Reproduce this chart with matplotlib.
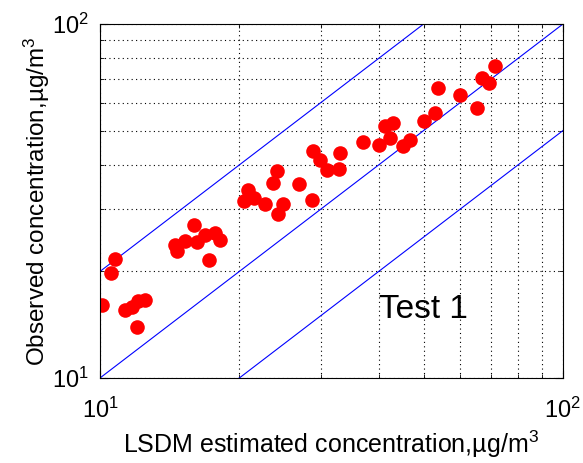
import numpy as np
import matplotlib
matplotlib.use('Agg')
import matplotlib.pyplot as plt
from matplotlib.ticker import NullFormatter, LogLocator

plt.rcParams['font.family'] = ['Liberation Sans', 'DejaVu Sans']
plt.rcParams['mathtext.fontset'] = 'custom'
plt.rcParams['mathtext.rm'] = 'Liberation Sans'
plt.rcParams['mathtext.it'] = 'Liberation Sans'

# оценка модели LSDM и наблюдения
lsdm = [10.1, 10.57, 10.8, 11.3, 11.7, 12.1, 12.5, 12.0,
        14.5, 14.7, 15.3, 16.0, 16.2, 16.9, 17.7, 18.2, 17.2,
        20.9, 20.5, 21.5, 22.7, 24.1, 23.6, 26.9, 24.9, 24.3, 28.7,
        28.9, 29.8, 30.9, 33.0, 32.9, 37.0,
        40.0, 41.3, 43.0, 42.3, 45.2, 46.8, 50.0, 52.9, 53.8, 60.0,
        65.3, 66.8, 69.3, 71.3]
observed = [16.1, 19.8, 21.7, 15.6, 15.9, 16.5, 16.6, 13.9,
            23.8, 22.8, 24.4, 27.0, 24.2, 25.4, 25.7, 24.5, 21.6,
            33.9, 31.6, 32.3, 31.1, 38.4, 35.6, 35.4, 31.1, 29.0, 31.9,
            43.7, 41.4, 38.8, 43.2, 38.9, 46.3,
            45.6, 51.4, 52.7, 47.6, 45.1, 47.1, 53.4, 56.0, 65.9, 63.1,
            57.9, 70.3, 68.3, 75.9]

# линии 1:1, 2:1, 1:2
ratios = [2.0, 1.0, 0.5]
lims = [10, 100]

fig = plt.figure(figsize=(5.83, 4.63), dpi=100)
ax = fig.add_axes([0.1715, 0.1836, 0.794, 0.7644])

xx = np.array(lims, dtype=float)
for r in ratios:
    ax.plot(xx, r * xx, color='#0000ff', lw=0.8)

ax.plot(lsdm, observed, 'o', color='red', markersize=10.5, markeredgewidth=0)

ax.set_xscale('log')
ax.set_yscale('log')
ax.set_xlim(lims)
ax.set_ylim(lims)

for axis in [ax.xaxis, ax.yaxis]:
    axis.set_major_locator(LogLocator(base=10))
    axis.set_minor_locator(LogLocator(base=10, subs=np.arange(2, 10)))
    axis.set_minor_formatter(NullFormatter())

ax.grid(True, which='both', color='black', linestyle=(0, (1, 3)), lw=0.8)
ax.tick_params(which='both', direction='in', top=True, right=True, labelsize=17)
ax.tick_params(axis='x', pad=14)
ax.tick_params(axis='y', pad=8)
ax.tick_params(which='major', length=6)
ax.tick_params(which='minor', length=3)
for s in ax.spines.values():
    s.set_linewidth(0.8)

ax.set_xlabel('LSDM estimated concentration,\u00b5g/m$^3$', fontsize=18, labelpad=4.5)
ax.set_ylabel('Observed concentration,\u00b5g/m$^3$', fontsize=17.5, labelpad=0)

ax.text(40, 14.8, 'Test 1', fontsize=24, ha='left', va='baseline')

fig.savefig('out.png', dpi=100)
